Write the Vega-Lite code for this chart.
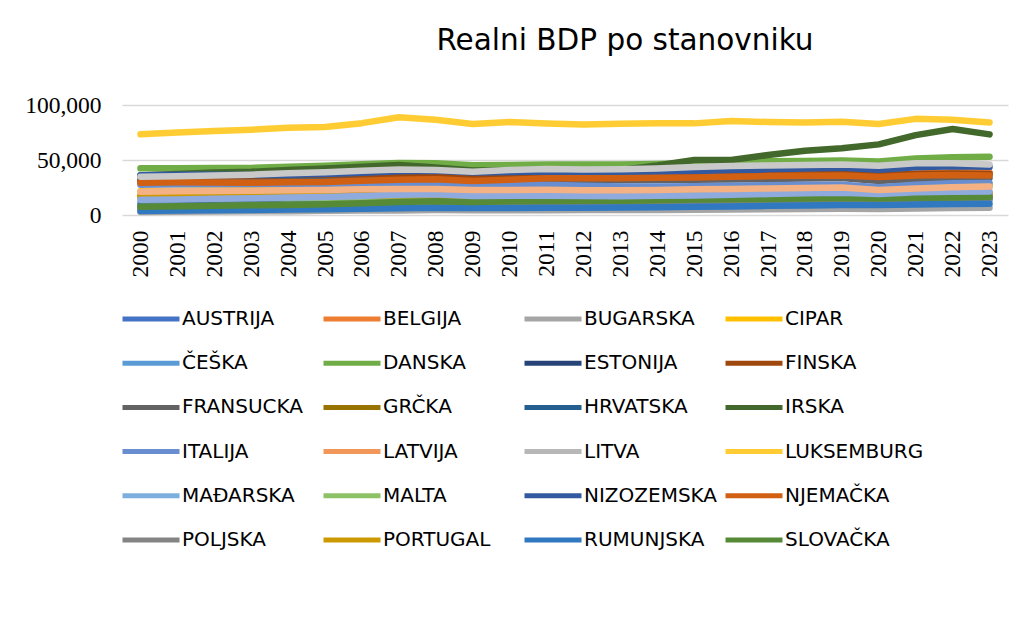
{
"$schema": "https://vega.github.io/schema/vega-lite/v6.json",
"width": 886, "height": 110,
"autosize": {"type": "none"},
"padding": {"left": 122, "top": 105, "right": 16, "bottom": 403},
"background": "white",
"title": {"text": "Realni BDP po stanovniku", "font": "DejaVu Sans", "fontSize": 29.5, "fontWeight": "normal", "color": "#000000", "anchor": "middle", "frame": "group", "dx": 60, "offset": 14, "baseline": "alphabetic"},
"config": {"view": {"stroke": null}},
"datasets": {"d": [
{"c":"AUSTRIJA","yr":2000,"v":32600},{"c":"AUSTRIJA","yr":2001,"v":32700},{"c":"AUSTRIJA","yr":2002,"v":33000},{"c":"AUSTRIJA","yr":2003,"v":33200},{"c":"AUSTRIJA","yr":2004,"v":33900},{"c":"AUSTRIJA","yr":2005,"v":34500},{"c":"AUSTRIJA","yr":2006,"v":35500},{"c":"AUSTRIJA","yr":2007,"v":36600},{"c":"AUSTRIJA","yr":2008,"v":36900},{"c":"AUSTRIJA","yr":2009,"v":35500},{"c":"AUSTRIJA","yr":2010,"v":36000},{"c":"AUSTRIJA","yr":2011,"v":36900},{"c":"AUSTRIJA","yr":2012,"v":36900},{"c":"AUSTRIJA","yr":2013,"v":36700},{"c":"AUSTRIJA","yr":2014,"v":36600},{"c":"AUSTRIJA","yr":2015,"v":36500},{"c":"AUSTRIJA","yr":2016,"v":36700},{"c":"AUSTRIJA","yr":2017,"v":37300},{"c":"AUSTRIJA","yr":2018,"v":38000},{"c":"AUSTRIJA","yr":2019,"v":38400},{"c":"AUSTRIJA","yr":2020,"v":35700},{"c":"AUSTRIJA","yr":2021,"v":37100},{"c":"AUSTRIJA","yr":2022,"v":38700},{"c":"AUSTRIJA","yr":2023,"v":37800},
{"c":"BELGIJA","yr":2000,"v":31300},{"c":"BELGIJA","yr":2001,"v":31600},{"c":"BELGIJA","yr":2002,"v":31900},{"c":"BELGIJA","yr":2003,"v":32100},{"c":"BELGIJA","yr":2004,"v":33000},{"c":"BELGIJA","yr":2005,"v":33600},{"c":"BELGIJA","yr":2006,"v":34300},{"c":"BELGIJA","yr":2007,"v":35200},{"c":"BELGIJA","yr":2008,"v":35200},{"c":"BELGIJA","yr":2009,"v":34200},{"c":"BELGIJA","yr":2010,"v":34900},{"c":"BELGIJA","yr":2011,"v":35000},{"c":"BELGIJA","yr":2012,"v":35000},{"c":"BELGIJA","yr":2013,"v":34900},{"c":"BELGIJA","yr":2014,"v":35300},{"c":"BELGIJA","yr":2015,"v":35800},{"c":"BELGIJA","yr":2016,"v":36100},{"c":"BELGIJA","yr":2017,"v":36600},{"c":"BELGIJA","yr":2018,"v":37100},{"c":"BELGIJA","yr":2019,"v":37700},{"c":"BELGIJA","yr":2020,"v":35600},{"c":"BELGIJA","yr":2021,"v":37800},{"c":"BELGIJA","yr":2022,"v":38700},{"c":"BELGIJA","yr":2023,"v":38800},
{"c":"BUGARSKA","yr":2000,"v":2700},{"c":"BUGARSKA","yr":2001,"v":2900},{"c":"BUGARSKA","yr":2002,"v":3100},{"c":"BUGARSKA","yr":2003,"v":3300},{"c":"BUGARSKA","yr":2004,"v":3500},{"c":"BUGARSKA","yr":2005,"v":3800},{"c":"BUGARSKA","yr":2006,"v":4000},{"c":"BUGARSKA","yr":2007,"v":4200},{"c":"BUGARSKA","yr":2008,"v":4500},{"c":"BUGARSKA","yr":2009,"v":4300},{"c":"BUGARSKA","yr":2010,"v":4300},{"c":"BUGARSKA","yr":2011,"v":4400},{"c":"BUGARSKA","yr":2012,"v":4500},{"c":"BUGARSKA","yr":2013,"v":4500},{"c":"BUGARSKA","yr":2014,"v":4600},{"c":"BUGARSKA","yr":2015,"v":4800},{"c":"BUGARSKA","yr":2016,"v":5000},{"c":"BUGARSKA","yr":2017,"v":5200},{"c":"BUGARSKA","yr":2018,"v":5400},{"c":"BUGARSKA","yr":2019,"v":5600},{"c":"BUGARSKA","yr":2020,"v":5400},{"c":"BUGARSKA","yr":2021,"v":5900},{"c":"BUGARSKA","yr":2022,"v":6300},{"c":"BUGARSKA","yr":2023,"v":6600},
{"c":"CIPAR","yr":2000,"v":21500},{"c":"CIPAR","yr":2001,"v":22100},{"c":"CIPAR","yr":2002,"v":22300},{"c":"CIPAR","yr":2003,"v":22400},{"c":"CIPAR","yr":2004,"v":23000},{"c":"CIPAR","yr":2005,"v":23500},{"c":"CIPAR","yr":2006,"v":24100},{"c":"CIPAR","yr":2007,"v":24900},{"c":"CIPAR","yr":2008,"v":25300},{"c":"CIPAR","yr":2009,"v":24100},{"c":"CIPAR","yr":2010,"v":23900},{"c":"CIPAR","yr":2011,"v":23400},{"c":"CIPAR","yr":2012,"v":22300},{"c":"CIPAR","yr":2013,"v":20900},{"c":"CIPAR","yr":2014,"v":20500},{"c":"CIPAR","yr":2015,"v":21200},{"c":"CIPAR","yr":2016,"v":22300},{"c":"CIPAR","yr":2017,"v":23300},{"c":"CIPAR","yr":2018,"v":24300},{"c":"CIPAR","yr":2019,"v":25200},{"c":"CIPAR","yr":2020,"v":24000},{"c":"CIPAR","yr":2021,"v":25900},{"c":"CIPAR","yr":2022,"v":27100},{"c":"CIPAR","yr":2023,"v":27400},
{"c":"ČEŠKA","yr":2000,"v":11300},{"c":"ČEŠKA","yr":2001,"v":11700},{"c":"ČEŠKA","yr":2002,"v":12000},{"c":"ČEŠKA","yr":2003,"v":12500},{"c":"ČEŠKA","yr":2004,"v":13100},{"c":"ČEŠKA","yr":2005,"v":13900},{"c":"ČEŠKA","yr":2006,"v":14800},{"c":"ČEŠKA","yr":2007,"v":15600},{"c":"ČEŠKA","yr":2008,"v":15900},{"c":"ČEŠKA","yr":2009,"v":15100},{"c":"ČEŠKA","yr":2010,"v":15400},{"c":"ČEŠKA","yr":2011,"v":15700},{"c":"ČEŠKA","yr":2012,"v":15600},{"c":"ČEŠKA","yr":2013,"v":15500},{"c":"ČEŠKA","yr":2014,"v":15800},{"c":"ČEŠKA","yr":2015,"v":16600},{"c":"ČEŠKA","yr":2016,"v":17000},{"c":"ČEŠKA","yr":2017,"v":17800},{"c":"ČEŠKA","yr":2018,"v":18300},{"c":"ČEŠKA","yr":2019,"v":18800},{"c":"ČEŠKA","yr":2020,"v":17700},{"c":"ČEŠKA","yr":2021,"v":18300},{"c":"ČEŠKA","yr":2022,"v":18700},{"c":"ČEŠKA","yr":2023,"v":18500},
{"c":"DANSKA","yr":2000,"v":42400},{"c":"DANSKA","yr":2001,"v":42600},{"c":"DANSKA","yr":2002,"v":42700},{"c":"DANSKA","yr":2003,"v":42800},{"c":"DANSKA","yr":2004,"v":43800},{"c":"DANSKA","yr":2005,"v":44800},{"c":"DANSKA","yr":2006,"v":46200},{"c":"DANSKA","yr":2007,"v":47300},{"c":"DANSKA","yr":2008,"v":47000},{"c":"DANSKA","yr":2009,"v":45300},{"c":"DANSKA","yr":2010,"v":45500},{"c":"DANSKA","yr":2011,"v":45800},{"c":"DANSKA","yr":2012,"v":45800},{"c":"DANSKA","yr":2013,"v":46000},{"c":"DANSKA","yr":2014,"v":46400},{"c":"DANSKA","yr":2015,"v":47300},{"c":"DANSKA","yr":2016,"v":48000},{"c":"DANSKA","yr":2017,"v":48800},{"c":"DANSKA","yr":2018,"v":49200},{"c":"DANSKA","yr":2019,"v":49600},{"c":"DANSKA","yr":2020,"v":48600},{"c":"DANSKA","yr":2021,"v":51300},{"c":"DANSKA","yr":2022,"v":52500},{"c":"DANSKA","yr":2023,"v":53000},
{"c":"ESTONIJA","yr":2000,"v":7900},{"c":"ESTONIJA","yr":2001,"v":8500},{"c":"ESTONIJA","yr":2002,"v":9100},{"c":"ESTONIJA","yr":2003,"v":9800},{"c":"ESTONIJA","yr":2004,"v":10500},{"c":"ESTONIJA","yr":2005,"v":11500},{"c":"ESTONIJA","yr":2006,"v":12700},{"c":"ESTONIJA","yr":2007,"v":13700},{"c":"ESTONIJA","yr":2008,"v":13000},{"c":"ESTONIJA","yr":2009,"v":11100},{"c":"ESTONIJA","yr":2010,"v":11400},{"c":"ESTONIJA","yr":2011,"v":12300},{"c":"ESTONIJA","yr":2012,"v":12900},{"c":"ESTONIJA","yr":2013,"v":13100},{"c":"ESTONIJA","yr":2014,"v":13600},{"c":"ESTONIJA","yr":2015,"v":13900},{"c":"ESTONIJA","yr":2016,"v":14300},{"c":"ESTONIJA","yr":2017,"v":15100},{"c":"ESTONIJA","yr":2018,"v":15700},{"c":"ESTONIJA","yr":2019,"v":16300},{"c":"ESTONIJA","yr":2020,"v":16200},{"c":"ESTONIJA","yr":2021,"v":17300},{"c":"ESTONIJA","yr":2022,"v":17000},{"c":"ESTONIJA","yr":2023,"v":16500},
{"c":"FINSKA","yr":2000,"v":31200},{"c":"FINSKA","yr":2001,"v":31900},{"c":"FINSKA","yr":2002,"v":32400},{"c":"FINSKA","yr":2003,"v":33000},{"c":"FINSKA","yr":2004,"v":34300},{"c":"FINSKA","yr":2005,"v":35100},{"c":"FINSKA","yr":2006,"v":36000},{"c":"FINSKA","yr":2007,"v":37000},{"c":"FINSKA","yr":2008,"v":37000},{"c":"FINSKA","yr":2009,"v":34000},{"c":"FINSKA","yr":2010,"v":35000},{"c":"FINSKA","yr":2011,"v":35800},{"c":"FINSKA","yr":2012,"v":35200},{"c":"FINSKA","yr":2013,"v":34800},{"c":"FINSKA","yr":2014,"v":34500},{"c":"FINSKA","yr":2015,"v":34600},{"c":"FINSKA","yr":2016,"v":35400},{"c":"FINSKA","yr":2017,"v":36400},{"c":"FINSKA","yr":2018,"v":36800},{"c":"FINSKA","yr":2019,"v":37200},{"c":"FINSKA","yr":2020,"v":36300},{"c":"FINSKA","yr":2021,"v":37300},{"c":"FINSKA","yr":2022,"v":37700},{"c":"FINSKA","yr":2023,"v":37200},
{"c":"FRANSUCKA","yr":2000,"v":29200},{"c":"FRANSUCKA","yr":2001,"v":29500},{"c":"FRANSUCKA","yr":2002,"v":29700},{"c":"FRANSUCKA","yr":2003,"v":29800},{"c":"FRANSUCKA","yr":2004,"v":30400},{"c":"FRANSUCKA","yr":2005,"v":30700},{"c":"FRANSUCKA","yr":2006,"v":31200},{"c":"FRANSUCKA","yr":2007,"v":31700},{"c":"FRANSUCKA","yr":2008,"v":31700},{"c":"FRANSUCKA","yr":2009,"v":30600},{"c":"FRANSUCKA","yr":2010,"v":31100},{"c":"FRANSUCKA","yr":2011,"v":31600},{"c":"FRANSUCKA","yr":2012,"v":31600},{"c":"FRANSUCKA","yr":2013,"v":31700},{"c":"FRANSUCKA","yr":2014,"v":31800},{"c":"FRANSUCKA","yr":2015,"v":32000},{"c":"FRANSUCKA","yr":2016,"v":32200},{"c":"FRANSUCKA","yr":2017,"v":32800},{"c":"FRANSUCKA","yr":2018,"v":33200},{"c":"FRANSUCKA","yr":2019,"v":33600},{"c":"FRANSUCKA","yr":2020,"v":30900},{"c":"FRANSUCKA","yr":2021,"v":32800},{"c":"FRANSUCKA","yr":2022,"v":33400},{"c":"FRANSUCKA","yr":2023,"v":33600},
{"c":"GRČKA","yr":2000,"v":17300},{"c":"GRČKA","yr":2001,"v":18000},{"c":"GRČKA","yr":2002,"v":18600},{"c":"GRČKA","yr":2003,"v":19700},{"c":"GRČKA","yr":2004,"v":20600},{"c":"GRČKA","yr":2005,"v":20700},{"c":"GRČKA","yr":2006,"v":21700},{"c":"GRČKA","yr":2007,"v":22300},{"c":"GRČKA","yr":2008,"v":22200},{"c":"GRČKA","yr":2009,"v":21300},{"c":"GRČKA","yr":2010,"v":20200},{"c":"GRČKA","yr":2011,"v":18300},{"c":"GRČKA","yr":2012,"v":17100},{"c":"GRČKA","yr":2013,"v":16800},{"c":"GRČKA","yr":2014,"v":17000},{"c":"GRČKA","yr":2015,"v":17000},{"c":"GRČKA","yr":2016,"v":17000},{"c":"GRČKA","yr":2017,"v":17200},{"c":"GRČKA","yr":2018,"v":17500},{"c":"GRČKA","yr":2019,"v":17800},{"c":"GRČKA","yr":2020,"v":16300},{"c":"GRČKA","yr":2021,"v":17800},{"c":"GRČKA","yr":2022,"v":18900},{"c":"GRČKA","yr":2023,"v":19400},
{"c":"HRVATSKA","yr":2000,"v":8400},{"c":"HRVATSKA","yr":2001,"v":8800},{"c":"HRVATSKA","yr":2002,"v":9300},{"c":"HRVATSKA","yr":2003,"v":9800},{"c":"HRVATSKA","yr":2004,"v":10200},{"c":"HRVATSKA","yr":2005,"v":10600},{"c":"HRVATSKA","yr":2006,"v":11100},{"c":"HRVATSKA","yr":2007,"v":11700},{"c":"HRVATSKA","yr":2008,"v":12000},{"c":"HRVATSKA","yr":2009,"v":11200},{"c":"HRVATSKA","yr":2010,"v":11100},{"c":"HRVATSKA","yr":2011,"v":11100},{"c":"HRVATSKA","yr":2012,"v":10900},{"c":"HRVATSKA","yr":2013,"v":10900},{"c":"HRVATSKA","yr":2014,"v":10900},{"c":"HRVATSKA","yr":2015,"v":11300},{"c":"HRVATSKA","yr":2016,"v":11800},{"c":"HRVATSKA","yr":2017,"v":12300},{"c":"HRVATSKA","yr":2018,"v":12800},{"c":"HRVATSKA","yr":2019,"v":13300},{"c":"HRVATSKA","yr":2020,"v":12300},{"c":"HRVATSKA","yr":2021,"v":14000},{"c":"HRVATSKA","yr":2022,"v":15000},{"c":"HRVATSKA","yr":2023,"v":15500},
{"c":"IRSKA","yr":2000,"v":36000},{"c":"IRSKA","yr":2001,"v":37300},{"c":"IRSKA","yr":2002,"v":38600},{"c":"IRSKA","yr":2003,"v":39300},{"c":"IRSKA","yr":2004,"v":40800},{"c":"IRSKA","yr":2005,"v":42300},{"c":"IRSKA","yr":2006,"v":43800},{"c":"IRSKA","yr":2007,"v":45500},{"c":"IRSKA","yr":2008,"v":43200},{"c":"IRSKA","yr":2009,"v":40500},{"c":"IRSKA","yr":2010,"v":40600},{"c":"IRSKA","yr":2011,"v":40800},{"c":"IRSKA","yr":2012,"v":40600},{"c":"IRSKA","yr":2013,"v":40900},{"c":"IRSKA","yr":2014,"v":45000},{"c":"IRSKA","yr":2015,"v":50000},{"c":"IRSKA","yr":2016,"v":50000},{"c":"IRSKA","yr":2017,"v":54500},{"c":"IRSKA","yr":2018,"v":58500},{"c":"IRSKA","yr":2019,"v":60600},{"c":"IRSKA","yr":2020,"v":64200},{"c":"IRSKA","yr":2021,"v":72600},{"c":"IRSKA","yr":2022,"v":78200},{"c":"IRSKA","yr":2023,"v":73300},
{"c":"ITALIJA","yr":2000,"v":27500},{"c":"ITALIJA","yr":2001,"v":27900},{"c":"ITALIJA","yr":2002,"v":28000},{"c":"ITALIJA","yr":2003,"v":27900},{"c":"ITALIJA","yr":2004,"v":28200},{"c":"ITALIJA","yr":2005,"v":28300},{"c":"ITALIJA","yr":2006,"v":28700},{"c":"ITALIJA","yr":2007,"v":28900},{"c":"ITALIJA","yr":2008,"v":28500},{"c":"ITALIJA","yr":2009,"v":26900},{"c":"ITALIJA","yr":2010,"v":27300},{"c":"ITALIJA","yr":2011,"v":27400},{"c":"ITALIJA","yr":2012,"v":26500},{"c":"ITALIJA","yr":2013,"v":25900},{"c":"ITALIJA","yr":2014,"v":25900},{"c":"ITALIJA","yr":2015,"v":26200},{"c":"ITALIJA","yr":2016,"v":26600},{"c":"ITALIJA","yr":2017,"v":27100},{"c":"ITALIJA","yr":2018,"v":27400},{"c":"ITALIJA","yr":2019,"v":27600},{"c":"ITALIJA","yr":2020,"v":25300},{"c":"ITALIJA","yr":2021,"v":27500},{"c":"ITALIJA","yr":2022,"v":28800},{"c":"ITALIJA","yr":2023,"v":29100},
{"c":"LATVIJA","yr":2000,"v":5800},{"c":"LATVIJA","yr":2001,"v":6300},{"c":"LATVIJA","yr":2002,"v":6800},{"c":"LATVIJA","yr":2003,"v":7400},{"c":"LATVIJA","yr":2004,"v":8200},{"c":"LATVIJA","yr":2005,"v":9100},{"c":"LATVIJA","yr":2006,"v":10200},{"c":"LATVIJA","yr":2007,"v":11200},{"c":"LATVIJA","yr":2008,"v":10900},{"c":"LATVIJA","yr":2009,"v":9400},{"c":"LATVIJA","yr":2010,"v":9200},{"c":"LATVIJA","yr":2011,"v":9900},{"c":"LATVIJA","yr":2012,"v":10500},{"c":"LATVIJA","yr":2013,"v":10900},{"c":"LATVIJA","yr":2014,"v":11300},{"c":"LATVIJA","yr":2015,"v":11800},{"c":"LATVIJA","yr":2016,"v":12100},{"c":"LATVIJA","yr":2017,"v":12700},{"c":"LATVIJA","yr":2018,"v":13300},{"c":"LATVIJA","yr":2019,"v":13700},{"c":"LATVIJA","yr":2020,"v":13300},{"c":"LATVIJA","yr":2021,"v":13900},{"c":"LATVIJA","yr":2022,"v":14400},{"c":"LATVIJA","yr":2023,"v":14300},
{"c":"LITVA","yr":2000,"v":6000},{"c":"LITVA","yr":2001,"v":6500},{"c":"LITVA","yr":2002,"v":6900},{"c":"LITVA","yr":2003,"v":7700},{"c":"LITVA","yr":2004,"v":8300},{"c":"LITVA","yr":2005,"v":9000},{"c":"LITVA","yr":2006,"v":9800},{"c":"LITVA","yr":2007,"v":11000},{"c":"LITVA","yr":2008,"v":11500},{"c":"LITVA","yr":2009,"v":9900},{"c":"LITVA","yr":2010,"v":10300},{"c":"LITVA","yr":2011,"v":11200},{"c":"LITVA","yr":2012,"v":11800},{"c":"LITVA","yr":2013,"v":12400},{"c":"LITVA","yr":2014,"v":12900},{"c":"LITVA","yr":2015,"v":13300},{"c":"LITVA","yr":2016,"v":13800},{"c":"LITVA","yr":2017,"v":14500},{"c":"LITVA","yr":2018,"v":15200},{"c":"LITVA","yr":2019,"v":15900},{"c":"LITVA","yr":2020,"v":16000},{"c":"LITVA","yr":2021,"v":17100},{"c":"LITVA","yr":2022,"v":17300},{"c":"LITVA","yr":2023,"v":17300},
{"c":"LUKSEMBURG","yr":2000,"v":73400},{"c":"LUKSEMBURG","yr":2001,"v":75000},{"c":"LUKSEMBURG","yr":2002,"v":76300},{"c":"LUKSEMBURG","yr":2003,"v":77500},{"c":"LUKSEMBURG","yr":2004,"v":79300},{"c":"LUKSEMBURG","yr":2005,"v":80000},{"c":"LUKSEMBURG","yr":2006,"v":83500},{"c":"LUKSEMBURG","yr":2007,"v":88800},{"c":"LUKSEMBURG","yr":2008,"v":86500},{"c":"LUKSEMBURG","yr":2009,"v":82700},{"c":"LUKSEMBURG","yr":2010,"v":84500},{"c":"LUKSEMBURG","yr":2011,"v":83200},{"c":"LUKSEMBURG","yr":2012,"v":82300},{"c":"LUKSEMBURG","yr":2013,"v":83000},{"c":"LUKSEMBURG","yr":2014,"v":83300},{"c":"LUKSEMBURG","yr":2015,"v":83300},{"c":"LUKSEMBURG","yr":2016,"v":85500},{"c":"LUKSEMBURG","yr":2017,"v":84500},{"c":"LUKSEMBURG","yr":2018,"v":84000},{"c":"LUKSEMBURG","yr":2019,"v":84800},{"c":"LUKSEMBURG","yr":2020,"v":82700},{"c":"LUKSEMBURG","yr":2021,"v":87400},{"c":"LUKSEMBURG","yr":2022,"v":86600},{"c":"LUKSEMBURG","yr":2023,"v":84100},
{"c":"MAĐARSKA","yr":2000,"v":7500},{"c":"MAĐARSKA","yr":2001,"v":7800},{"c":"MAĐARSKA","yr":2002,"v":8200},{"c":"MAĐARSKA","yr":2003,"v":8600},{"c":"MAĐARSKA","yr":2004,"v":9000},{"c":"MAĐARSKA","yr":2005,"v":9400},{"c":"MAĐARSKA","yr":2006,"v":9800},{"c":"MAĐARSKA","yr":2007,"v":9800},{"c":"MAĐARSKA","yr":2008,"v":9900},{"c":"MAĐARSKA","yr":2009,"v":9200},{"c":"MAĐARSKA","yr":2010,"v":9300},{"c":"MAĐARSKA","yr":2011,"v":9500},{"c":"MAĐARSKA","yr":2012,"v":9400},{"c":"MAĐARSKA","yr":2013,"v":9600},{"c":"MAĐARSKA","yr":2014,"v":10100},{"c":"MAĐARSKA","yr":2015,"v":10500},{"c":"MAĐARSKA","yr":2016,"v":10700},{"c":"MAĐARSKA","yr":2017,"v":11200},{"c":"MAĐARSKA","yr":2018,"v":11800},{"c":"MAĐARSKA","yr":2019,"v":12400},{"c":"MAĐARSKA","yr":2020,"v":11900},{"c":"MAĐARSKA","yr":2021,"v":12900},{"c":"MAĐARSKA","yr":2022,"v":13500},{"c":"MAĐARSKA","yr":2023,"v":13400},
{"c":"MALTA","yr":2000,"v":15200},{"c":"MALTA","yr":2001,"v":15000},{"c":"MALTA","yr":2002,"v":15300},{"c":"MALTA","yr":2003,"v":15500},{"c":"MALTA","yr":2004,"v":15300},{"c":"MALTA","yr":2005,"v":15700},{"c":"MALTA","yr":2006,"v":15900},{"c":"MALTA","yr":2007,"v":16400},{"c":"MALTA","yr":2008,"v":16800},{"c":"MALTA","yr":2009,"v":16300},{"c":"MALTA","yr":2010,"v":16800},{"c":"MALTA","yr":2011,"v":16700},{"c":"MALTA","yr":2012,"v":16900},{"c":"MALTA","yr":2013,"v":17400},{"c":"MALTA","yr":2014,"v":18600},{"c":"MALTA","yr":2015,"v":20100},{"c":"MALTA","yr":2016,"v":20600},{"c":"MALTA","yr":2017,"v":21800},{"c":"MALTA","yr":2018,"v":22300},{"c":"MALTA","yr":2019,"v":23200},{"c":"MALTA","yr":2020,"v":21000},{"c":"MALTA","yr":2021,"v":23300},{"c":"MALTA","yr":2022,"v":24900},{"c":"MALTA","yr":2023,"v":25600},
{"c":"NIZOZEMSKA","yr":2000,"v":36200},{"c":"NIZOZEMSKA","yr":2001,"v":36600},{"c":"NIZOZEMSKA","yr":2002,"v":36500},{"c":"NIZOZEMSKA","yr":2003,"v":36300},{"c":"NIZOZEMSKA","yr":2004,"v":36700},{"c":"NIZOZEMSKA","yr":2005,"v":37300},{"c":"NIZOZEMSKA","yr":2006,"v":38400},{"c":"NIZOZEMSKA","yr":2007,"v":39700},{"c":"NIZOZEMSKA","yr":2008,"v":40300},{"c":"NIZOZEMSKA","yr":2009,"v":38700},{"c":"NIZOZEMSKA","yr":2010,"v":39100},{"c":"NIZOZEMSKA","yr":2011,"v":39500},{"c":"NIZOZEMSKA","yr":2012,"v":38900},{"c":"NIZOZEMSKA","yr":2013,"v":38800},{"c":"NIZOZEMSKA","yr":2014,"v":39300},{"c":"NIZOZEMSKA","yr":2015,"v":39900},{"c":"NIZOZEMSKA","yr":2016,"v":40600},{"c":"NIZOZEMSKA","yr":2017,"v":41500},{"c":"NIZOZEMSKA","yr":2018,"v":42300},{"c":"NIZOZEMSKA","yr":2019,"v":42900},{"c":"NIZOZEMSKA","yr":2020,"v":41100},{"c":"NIZOZEMSKA","yr":2021,"v":43300},{"c":"NIZOZEMSKA","yr":2022,"v":44400},{"c":"NIZOZEMSKA","yr":2023,"v":43800},
{"c":"NJEMAČKA","yr":2000,"v":29300},{"c":"NJEMAČKA","yr":2001,"v":29700},{"c":"NJEMAČKA","yr":2002,"v":29600},{"c":"NJEMAČKA","yr":2003,"v":29400},{"c":"NJEMAČKA","yr":2004,"v":29700},{"c":"NJEMAČKA","yr":2005,"v":29900},{"c":"NJEMAČKA","yr":2006,"v":31100},{"c":"NJEMAČKA","yr":2007,"v":32100},{"c":"NJEMAČKA","yr":2008,"v":32500},{"c":"NJEMAČKA","yr":2009,"v":30800},{"c":"NJEMAČKA","yr":2010,"v":32100},{"c":"NJEMAČKA","yr":2011,"v":33300},{"c":"NJEMAČKA","yr":2012,"v":33400},{"c":"NJEMAČKA","yr":2013,"v":33400},{"c":"NJEMAČKA","yr":2014,"v":33900},{"c":"NJEMAČKA","yr":2015,"v":34200},{"c":"NJEMAČKA","yr":2016,"v":34700},{"c":"NJEMAČKA","yr":2017,"v":35400},{"c":"NJEMAČKA","yr":2018,"v":35700},{"c":"NJEMAČKA","yr":2019,"v":36000},{"c":"NJEMAČKA","yr":2020,"v":34600},{"c":"NJEMAČKA","yr":2021,"v":35800},{"c":"NJEMAČKA","yr":2022,"v":36300},{"c":"NJEMAČKA","yr":2023,"v":35900},
{"c":"POLJSKA","yr":2000,"v":6300},{"c":"POLJSKA","yr":2001,"v":6400},{"c":"POLJSKA","yr":2002,"v":6500},{"c":"POLJSKA","yr":2003,"v":6700},{"c":"POLJSKA","yr":2004,"v":7100},{"c":"POLJSKA","yr":2005,"v":7400},{"c":"POLJSKA","yr":2006,"v":7900},{"c":"POLJSKA","yr":2007,"v":8500},{"c":"POLJSKA","yr":2008,"v":8800},{"c":"POLJSKA","yr":2009,"v":9100},{"c":"POLJSKA","yr":2010,"v":9400},{"c":"POLJSKA","yr":2011,"v":9900},{"c":"POLJSKA","yr":2012,"v":10000},{"c":"POLJSKA","yr":2013,"v":10200},{"c":"POLJSKA","yr":2014,"v":10500},{"c":"POLJSKA","yr":2015,"v":11000},{"c":"POLJSKA","yr":2016,"v":11300},{"c":"POLJSKA","yr":2017,"v":11900},{"c":"POLJSKA","yr":2018,"v":12600},{"c":"POLJSKA","yr":2019,"v":13200},{"c":"POLJSKA","yr":2020,"v":12900},{"c":"POLJSKA","yr":2021,"v":14000},{"c":"POLJSKA","yr":2022,"v":14800},{"c":"POLJSKA","yr":2023,"v":14900},
{"c":"PORTUGAL","yr":2000,"v":16900},{"c":"PORTUGAL","yr":2001,"v":17100},{"c":"PORTUGAL","yr":2002,"v":17100},{"c":"PORTUGAL","yr":2003,"v":16900},{"c":"PORTUGAL","yr":2004,"v":17200},{"c":"PORTUGAL","yr":2005,"v":17300},{"c":"PORTUGAL","yr":2006,"v":17500},{"c":"PORTUGAL","yr":2007,"v":17900},{"c":"PORTUGAL","yr":2008,"v":17900},{"c":"PORTUGAL","yr":2009,"v":17400},{"c":"PORTUGAL","yr":2010,"v":17700},{"c":"PORTUGAL","yr":2011,"v":17400},{"c":"PORTUGAL","yr":2012,"v":16800},{"c":"PORTUGAL","yr":2013,"v":16700},{"c":"PORTUGAL","yr":2014,"v":16900},{"c":"PORTUGAL","yr":2015,"v":17300},{"c":"PORTUGAL","yr":2016,"v":17600},{"c":"PORTUGAL","yr":2017,"v":18200},{"c":"PORTUGAL","yr":2018,"v":18700},{"c":"PORTUGAL","yr":2019,"v":19100},{"c":"PORTUGAL","yr":2020,"v":17500},{"c":"PORTUGAL","yr":2021,"v":18400},{"c":"PORTUGAL","yr":2022,"v":19600},{"c":"PORTUGAL","yr":2023,"v":19900},
{"c":"RUMUNJSKA","yr":2000,"v":3700},{"c":"RUMUNJSKA","yr":2001,"v":4000},{"c":"RUMUNJSKA","yr":2002,"v":4300},{"c":"RUMUNJSKA","yr":2003,"v":4500},{"c":"RUMUNJSKA","yr":2004,"v":5000},{"c":"RUMUNJSKA","yr":2005,"v":5200},{"c":"RUMUNJSKA","yr":2006,"v":5700},{"c":"RUMUNJSKA","yr":2007,"v":6100},{"c":"RUMUNJSKA","yr":2008,"v":6700},{"c":"RUMUNJSKA","yr":2009,"v":6400},{"c":"RUMUNJSKA","yr":2010,"v":6400},{"c":"RUMUNJSKA","yr":2011,"v":6500},{"c":"RUMUNJSKA","yr":2012,"v":6600},{"c":"RUMUNJSKA","yr":2013,"v":6900},{"c":"RUMUNJSKA","yr":2014,"v":7100},{"c":"RUMUNJSKA","yr":2015,"v":7400},{"c":"RUMUNJSKA","yr":2016,"v":7700},{"c":"RUMUNJSKA","yr":2017,"v":8300},{"c":"RUMUNJSKA","yr":2018,"v":8700},{"c":"RUMUNJSKA","yr":2019,"v":9100},{"c":"RUMUNJSKA","yr":2020,"v":9000},{"c":"RUMUNJSKA","yr":2021,"v":9600},{"c":"RUMUNJSKA","yr":2022,"v":10000},{"c":"RUMUNJSKA","yr":2023,"v":10300},
{"c":"SLOVAČKA","yr":2000,"v":7600},{"c":"SLOVAČKA","yr":2001,"v":7900},{"c":"SLOVAČKA","yr":2002,"v":8300},{"c":"SLOVAČKA","yr":2003,"v":8800},{"c":"SLOVAČKA","yr":2004,"v":9200},{"c":"SLOVAČKA","yr":2005,"v":9800},{"c":"SLOVAČKA","yr":2006,"v":10700},{"c":"SLOVAČKA","yr":2007,"v":11900},{"c":"SLOVAČKA","yr":2008,"v":12600},{"c":"SLOVAČKA","yr":2009,"v":11900},{"c":"SLOVAČKA","yr":2010,"v":12400},{"c":"SLOVAČKA","yr":2011,"v":12700},{"c":"SLOVAČKA","yr":2012,"v":12900},{"c":"SLOVAČKA","yr":2013,"v":13000},{"c":"SLOVAČKA","yr":2014,"v":13400},{"c":"SLOVAČKA","yr":2015,"v":14000},{"c":"SLOVAČKA","yr":2016,"v":14300},{"c":"SLOVAČKA","yr":2017,"v":14500},{"c":"SLOVAČKA","yr":2018,"v":15100},{"c":"SLOVAČKA","yr":2019,"v":15500},{"c":"SLOVAČKA","yr":2020,"v":15100},{"c":"SLOVAČKA","yr":2021,"v":15700},{"c":"SLOVAČKA","yr":2022,"v":16000},{"c":"SLOVAČKA","yr":2023,"v":16500},
{"c":"SLOVENIJA","yr":2000,"v":13800},{"c":"SLOVENIJA","yr":2001,"v":14200},{"c":"SLOVENIJA","yr":2002,"v":14700},{"c":"SLOVENIJA","yr":2003,"v":15200},{"c":"SLOVENIJA","yr":2004,"v":15800},{"c":"SLOVENIJA","yr":2005,"v":16400},{"c":"SLOVENIJA","yr":2006,"v":17200},{"c":"SLOVENIJA","yr":2007,"v":18300},{"c":"SLOVENIJA","yr":2008,"v":18800},{"c":"SLOVENIJA","yr":2009,"v":17200},{"c":"SLOVENIJA","yr":2010,"v":17600},{"c":"SLOVENIJA","yr":2011,"v":17600},{"c":"SLOVENIJA","yr":2012,"v":17200},{"c":"SLOVENIJA","yr":2013,"v":17000},{"c":"SLOVENIJA","yr":2014,"v":17400},{"c":"SLOVENIJA","yr":2015,"v":17800},{"c":"SLOVENIJA","yr":2016,"v":18300},{"c":"SLOVENIJA","yr":2017,"v":19100},{"c":"SLOVENIJA","yr":2018,"v":19700},{"c":"SLOVENIJA","yr":2019,"v":20200},{"c":"SLOVENIJA","yr":2020,"v":19200},{"c":"SLOVENIJA","yr":2021,"v":20700},{"c":"SLOVENIJA","yr":2022,"v":21100},{"c":"SLOVENIJA","yr":2023,"v":21300},
{"c":"ŠPANJOLSKA","yr":2000,"v":21200},{"c":"ŠPANJOLSKA","yr":2001,"v":21700},{"c":"ŠPANJOLSKA","yr":2002,"v":21900},{"c":"ŠPANJOLSKA","yr":2003,"v":22100},{"c":"ŠPANJOLSKA","yr":2004,"v":22400},{"c":"ŠPANJOLSKA","yr":2005,"v":22800},{"c":"ŠPANJOLSKA","yr":2006,"v":23300},{"c":"ŠPANJOLSKA","yr":2007,"v":23700},{"c":"ŠPANJOLSKA","yr":2008,"v":23600},{"c":"ŠPANJOLSKA","yr":2009,"v":22800},{"c":"ŠPANJOLSKA","yr":2010,"v":22800},{"c":"ŠPANJOLSKA","yr":2011,"v":23000},{"c":"ŠPANJOLSKA","yr":2012,"v":22600},{"c":"ŠPANJOLSKA","yr":2013,"v":22500},{"c":"ŠPANJOLSKA","yr":2014,"v":22800},{"c":"ŠPANJOLSKA","yr":2015,"v":23300},{"c":"ŠPANJOLSKA","yr":2016,"v":23700},{"c":"ŠPANJOLSKA","yr":2017,"v":24200},{"c":"ŠPANJOLSKA","yr":2018,"v":24600},{"c":"ŠPANJOLSKA","yr":2019,"v":25000},{"c":"ŠPANJOLSKA","yr":2020,"v":22700},{"c":"ŠPANJOLSKA","yr":2021,"v":24000},{"c":"ŠPANJOLSKA","yr":2022,"v":25200},{"c":"ŠPANJOLSKA","yr":2023,"v":25800},
{"c":"ŠVEDSKA","yr":2000,"v":34800},{"c":"ŠVEDSKA","yr":2001,"v":35200},{"c":"ŠVEDSKA","yr":2002,"v":35900},{"c":"ŠVEDSKA","yr":2003,"v":36700},{"c":"ŠVEDSKA","yr":2004,"v":37900},{"c":"ŠVEDSKA","yr":2005,"v":38900},{"c":"ŠVEDSKA","yr":2006,"v":40300},{"c":"ŠVEDSKA","yr":2007,"v":41300},{"c":"ŠVEDSKA","yr":2008,"v":41000},{"c":"ŠVEDSKA","yr":2009,"v":39300},{"c":"ŠVEDSKA","yr":2010,"v":41000},{"c":"ŠVEDSKA","yr":2011,"v":41800},{"c":"ŠVEDSKA","yr":2012,"v":41400},{"c":"ŠVEDSKA","yr":2013,"v":41600},{"c":"ŠVEDSKA","yr":2014,"v":42300},{"c":"ŠVEDSKA","yr":2015,"v":43700},{"c":"ŠVEDSKA","yr":2016,"v":44500},{"c":"ŠVEDSKA","yr":2017,"v":45000},{"c":"ŠVEDSKA","yr":2018,"v":45500},{"c":"ŠVEDSKA","yr":2019,"v":45800},{"c":"ŠVEDSKA","yr":2020,"v":44800},{"c":"ŠVEDSKA","yr":2021,"v":47000},{"c":"ŠVEDSKA","yr":2022,"v":47000},{"c":"ŠVEDSKA","yr":2023,"v":46000}
]},
"data": {"name": "d"},
"mark": {"type": "line", "strokeWidth": 6.5, "strokeCap": "round", "strokeJoin": "round"},
"encoding": {
  "x": {"field": "yr", "type": "ordinal", "scale": {"paddingOuter": 0.5},
        "axis": {"title": null, "labelAngle": 270, "labelFont": "Liberation Serif", "labelFontSize": 23.5, "labelColor": "#000000", "labelPadding": 15, "domain": false, "ticks": false, "grid": false}},
  "y": {"field": "v", "type": "quantitative", "scale": {"domain": [0, 100000], "nice": false},
        "axis": {"title": null, "values": [0, 50000, 100000], "format": ",.0f", "labelFont": "Liberation Serif", "labelFontSize": 23.5, "labelColor": "#000000", "labelPadding": 21, "labelFlush": false, "labelOverlap": false, "domain": false, "ticks": false, "gridColor": "#D9D9D9", "gridWidth": 1.5}},
  "color": {"field": "c", "type": "nominal",
    "scale": {"domain": ["AUSTRIJA","BELGIJA","BUGARSKA","CIPAR","ČEŠKA","DANSKA","ESTONIJA","FINSKA","FRANSUCKA","GRČKA","HRVATSKA","IRSKA","ITALIJA","LATVIJA","LITVA","LUKSEMBURG","MAĐARSKA","MALTA","NIZOZEMSKA","NJEMAČKA","POLJSKA","PORTUGAL","RUMUNJSKA","SLOVAČKA","SLOVENIJA","ŠPANJOLSKA","ŠVEDSKA"],
              "range": ["#4472C4","#ED7D31","#A5A5A5","#FFC000","#5B9BD5","#70AD47","#264478","#9E480E","#636363","#997300","#255E91","#43682B","#698ED0","#F1975A","#B7B7B7","#FFCD33","#7CAFDD","#8CC168","#335AA1","#D26012","#848484","#CC9A00","#3079C0","#578A37","#8FAADC","#F4B183","#C9C9C9"]},
    "legend": {"title": null, "orient": "none", "legendX": -2, "legendY": 183, "columns": 4, "direction": "horizontal", "gridAlign": "all",
      "values": ["AUSTRIJA","BELGIJA","BUGARSKA","CIPAR","ČEŠKA","DANSKA","ESTONIJA","FINSKA","FRANSUCKA","GRČKA","HRVATSKA","IRSKA","ITALIJA","LATVIJA","LITVA","LUKSEMBURG","MAĐARSKA","MALTA","NIZOZEMSKA","NJEMAČKA","POLJSKA","PORTUGAL","RUMUNJSKA","SLOVAČKA"],
      "symbolType": "stroke", "symbolSize": 3249, "symbolStrokeWidth": 5,
      "labelFont": "DejaVu Sans", "labelFontSize": 20, "labelColor": "#000000", "labelOffset": 0, "labelLimit": 300,
      "rowPadding": 3.2, "columnPadding": -10}}
}
}
